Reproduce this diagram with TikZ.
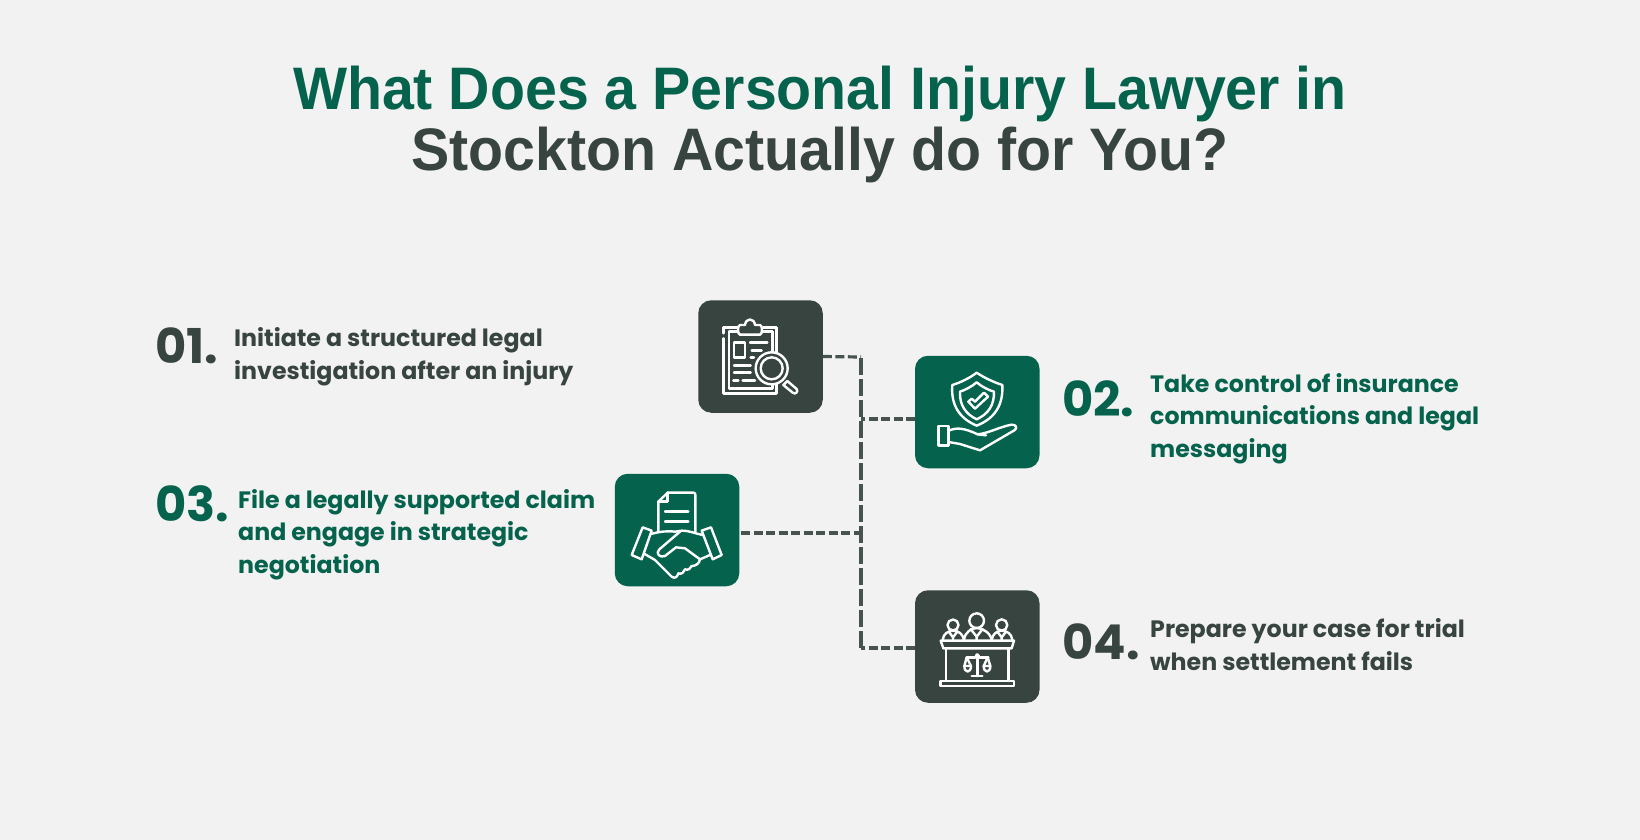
\documentclass[tikz,border=0pt]{standalone}
\usepackage{fontspec}
\setmainfont{Poppins}
\newfontfamily\titlef[FakeStretch=0.955]{Liberation Sans}
\usetikzlibrary{calc}
\definecolor{bgc}{HTML}{F2F2F2}
\definecolor{darkc}{HTML}{37443F}
\definecolor{greenc}{HTML}{05624C}
\tikzset{
 tilebox/.style={draw=none,rounded corners=13pt,minimum width=124.5pt,minimum height=112.5pt,inner sep=0pt},
 dashline/.style={draw=darkc!92!white,line width=3.2pt,dash pattern=on 9pt off 3.5pt},
 spineline/.style={draw=darkc!92!white,line width=3.2pt,dash pattern=on 17pt off 4pt},
 ttl/.style={font=\titlef\bfseries\fontsize{60}{60}\selectfont,anchor=base},
 num/.style={font=\fontsize{48}{48}\selectfont\bfseries,anchor=base west,inner sep=0pt},
 desc/.style={font=\fontsize{23.7}{32.5}\selectfont\bfseries,anchor=base west,inner sep=0pt,align=left},
 ico/.style={draw=white,line width=2.4pt,line join=round,line cap=round},
}
\begin{document}
\begin{tikzpicture}[x=1pt,y=-1pt]
\path[use as bounding box,fill=bgc] (0,0) rectangle (1640,840);
\node[ttl,text=greenc] (t1) at (820,110) {What Does a Personal Injury Lawyer in};
\node[ttl,text=darkc] (t2) at (820,170) {Stockton Actually do for You?};
% tiles
\node[tilebox,fill=darkc] (b1) at (760.5,356.5) {};
\node[tilebox,fill=greenc] (b2) at (977.25,412) {};
\node[tilebox,fill=greenc] (b3) at (677,530) {};
\node[tilebox,fill=darkc] (b4) at (977.25,646.5) {};
% connector points
\coordinate (s1) at (861,357);
\coordinate (s2) at (861,419);
\coordinate (s3) at (861,533);
\coordinate (s4) at (861,648);
\coordinate (e2) at (915,419);
\coordinate (e3) at (741,533);
\coordinate (e4) at (915,648);
\draw[dashline] (b1.east) -- (s1);
\draw[dashline] (e2) -- (s2);
\draw[dashline] (e3) -- (s3);
\draw[dashline] (e4) -- (s4);
\draw[spineline] (s4) -- (s1);
% icon 1
\begin{scope}[shift={(680,290)},x=0.33333pt,y=-0.33333pt,ico]
\draw (130,145) -- (130,310) -- (290,310) -- (290,112) -- (250,112);
\draw (172,112) -- (130,112) -- (130,130);
\draw (172,125) -- (147,125) -- (147,295) -- (277,295) -- (277,125) -- (250,125);
\draw[fill=darkc] (180,105) -- (195,105) .. controls (197,83) and (223,83) .. (225,105) -- (240,105) .. controls (248,105) and (248,134) .. (240,134) -- (180,134) .. controls (172,134) and (172,105) .. (180,105) -- cycle;
\draw (162,157) rectangle (195,203);
\draw (210,157) -- (262,157) (215,181) -- (245,181) (212,203) -- (222,203);
\draw (162,226) -- (212,226) (162,248) -- (212,248) (160,271) -- (175,271) (188,271) -- (225,271);
\draw[fill=darkc] (275,235) circle (48);
\draw (275,235) circle (33);
\draw[fill=darkc] (310,285) -- (322,273) -- (350,297) .. controls (356,305) and (346,315) .. (338,308) -- cycle;
\end{scope}
% icon 2
\begin{scope}[shift={(680,290)},x=0.33333pt,y=-0.33333pt,ico]
\draw (890,248) .. controls (915,265) and (945,278) .. (967,285) .. controls (970,345) and (945,385) .. (890,407) .. controls (838,385) and (812,345) .. (817,285) .. controls (840,278) and (868,265) .. (890,248) -- cycle;
\draw (890,277) .. controls (905,290) and (925,300) .. (942,305) .. controls (943,345) and (925,372) .. (890,388) .. controls (857,372) and (838,345) .. (840,305) .. controls (855,300) and (875,290) .. (890,277) -- cycle;
\draw (865,335) -- (875,326) -- (885,335) -- (912,308) -- (924,320) -- (885,356) -- cycle;
\draw (775,408) rectangle (806,466);
\draw (806,422) .. controls (830,412) and (850,413) .. (893,433) .. controls (925,430) and (960,410) .. (995,404) .. controls (1008,403) and (1014,415) .. (1003,421) -- (900,481) -- (840,462) -- (806,456);
\draw (893,433) -- (918,436);
\end{scope}
% icon 3
\begin{scope}[shift={(600,460)},x=0.33333pt,y=-0.33333pt,ico]
\draw (175,215) -- (175,125) -- (203,98) -- (280,98) .. controls (284,98) and (286,100) .. (286,104) -- (286,215);
\draw (203,98) -- (203,125) -- (175,125);
\draw (195,155) -- (265,155) (195,185) -- (265,185);
\draw[fill=greenc] (128,202) -- (155,212) -- (125,298) -- (95,285) -- cycle;
\draw[fill=greenc] (333,202) -- (305,212) -- (338,298) -- (365,285) -- cycle;
\draw (152,222) .. controls (180,215) and (200,212) .. (225,215) -- (245,212) .. controls (270,212) and (290,222) .. (308,225);
\draw (134,282) -- (165,300) -- (215,350) .. controls (225,358) and (232,350) .. (235,340) .. controls (245,345) and (252,335) .. (255,328) .. controls (265,332) and (272,325) .. (275,318) .. controls (288,318) and (298,310) .. (300,298) -- (255,265) -- (228,262) -- (195,288) .. controls (180,295) and (165,280) .. (178,268) -- (240,215);
\draw (300,298) -- (330,285);
\end{scope}
% icon 4
\begin{scope}[shift={(850,580)},x=0.33333pt,y=-0.33333pt,ico]
\draw (309,135) circle (16.5) (380,122) circle (22) (455,135) circle (17);
\draw (278,180) .. controls (280,160) and (295,153) .. (309,152) .. controls (325,153) and (338,160) .. (342,180);
\draw (342,180) .. controls (345,155) and (365,145) .. (380,144) .. controls (395,145) and (420,155) .. (425,180);
\draw (425,180) .. controls (428,160) and (442,153) .. (455,152) .. controls (470,153) and (485,160) .. (487,180);
\draw (296,155) -- (309,172) -- (322,155) (309,172) -- (309,180);
\draw (362,147) -- (380,170) -- (398,147) (380,170) -- (380,180);
\draw (442,155) -- (455,172) -- (468,155) (455,172) -- (455,180);
\draw (272,182) -- (492,182) -- (485,205) -- (280,205) -- cycle;
\draw (288,205) -- (288,303) (475,205) -- (475,303);
\draw (272,303) rectangle (492,318);
\draw (382,228) circle (5);
\draw (350,232) -- (376,232) (388,232) -- (415,232);
\draw (382,234) -- (382,288) (365,288) -- (397,288);
\draw (343,258) -- (363,258) (350,232) -- (343,258) (350,232) -- (363,258);
\draw (343,258) .. controls (343,280) and (363,280) .. (363,258);
\draw (401,258) -- (421,258) (413,232) -- (401,258) (413,232) -- (421,258);
\draw (401,258) .. controls (401,280) and (421,280) .. (421,258);
\end{scope}
% text
\node[num,text=darkc] (n1) at (155,363) {01.};
\node[desc,text=darkc] (d1) at (234,379) {Initiate a structured legal\\investigation after an injury};
\node[num,text=greenc] (n2) at (1062,416) {02.};
\node[desc,text=greenc] (d2) at (1150,457) {Take control of insurance\\communications and legal\\messaging};
\node[num,text=greenc] (n3) at (155,521) {03.};
\node[desc,text=greenc] (d3) at (238,573) {File a legally supported claim\\and engage in strategic\\negotiation};
\node[num,text=darkc] (n4) at (1062,659) {04.};
\node[desc,text=darkc] (d4) at (1150,670) {Prepare your case for trial\\when settlement fails};
\end{tikzpicture}
\end{document}
